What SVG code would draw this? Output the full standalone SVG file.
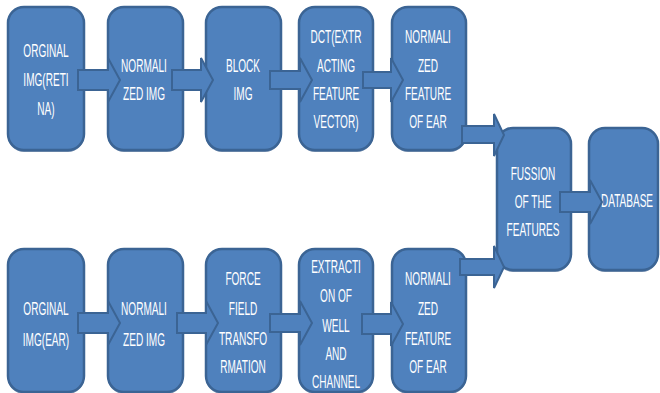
<svg xmlns="http://www.w3.org/2000/svg" width="660" height="393" viewBox="0 0 660 393">
<style>
.box{fill:#4F81BD;stroke:#3B6494;stroke-width:2.5}
.sh{fill:#385D8A;opacity:0.7}
.arr{fill:#4F81BD;stroke:#3B6494;stroke-width:2;stroke-linejoin:miter}
.t{fill:#FFFFFF;font-family:"Liberation Sans",Arial,sans-serif;font-size:19px;text-anchor:middle}
</style>
<rect width="660" height="393" fill="#FFFFFF"/>
<g id="n1"><rect class="sh" x="8" y="9" width="76" height="143" rx="16"/><rect class="box" x="8" y="7" width="76" height="143" rx="16"/>
<text class="t" transform="translate(46 0) scale(0.53 1)"><tspan x="0" y="57">ORGINAL</tspan><tspan x="0" y="86">IMG(RETI</tspan><tspan x="0" y="115">NA)</tspan></text></g>
<g id="n2"><rect class="sh" x="108" y="9" width="75" height="143" rx="16"/><rect class="box" x="108" y="7" width="75" height="143" rx="16"/>
<text class="t" transform="translate(144 0) scale(0.53 1)"><tspan x="0" y="72">NORMALI</tspan><tspan x="0" y="100">ZED IMG</tspan></text></g>
<g id="n3"><rect class="sh" x="206" y="9" width="75" height="143" rx="16"/><rect class="box" x="206" y="7" width="75" height="143" rx="16"/>
<text class="t" transform="translate(243 0) scale(0.53 1)"><tspan x="0" y="72">BLOCK</tspan><tspan x="0" y="100">IMG</tspan></text></g>
<g id="n4"><rect class="sh" x="299" y="9" width="74" height="143" rx="16"/><rect class="box" x="299" y="7" width="74" height="143" rx="16"/>
<text class="t" transform="translate(336 0) scale(0.53 1)"><tspan x="0" y="43">DCT(EXTR</tspan><tspan x="0" y="72">ACTING</tspan><tspan x="0" y="100">FEATURE</tspan><tspan x="0" y="128">VECTOR)</tspan></text></g>
<g id="n5"><rect class="sh" x="392" y="9" width="74" height="143" rx="16"/><rect class="box" x="392" y="7" width="74" height="143" rx="16"/>
<text class="t" transform="translate(428 0) scale(0.53 1)"><tspan x="0" y="43">NORMALI</tspan><tspan x="0" y="72">ZED</tspan><tspan x="0" y="100">FEATURE</tspan><tspan x="0" y="128">OF EAR</tspan></text></g>
<g id="n6"><rect class="sh" x="497" y="130" width="74" height="142" rx="16"/><rect class="box" x="497" y="128" width="74" height="142" rx="16"/>
<text class="t" transform="translate(533 0) scale(0.53 1)"><tspan x="0" y="180">FUSSION</tspan><tspan x="0" y="208">OF THE</tspan><tspan x="0" y="236">FEATURES</tspan></text></g>
<g id="n7"><rect class="sh" x="589" y="130" width="69" height="142" rx="16"/><rect class="box" x="589" y="128" width="69" height="142" rx="16"/>
<text class="t" transform="translate(627 0) scale(0.53 1)"><tspan x="0" y="207">DATABASE</tspan></text></g>
<g id="n8"><rect class="sh" x="8" y="251" width="76" height="143" rx="16"/><rect class="box" x="8" y="249" width="76" height="143" rx="16"/>
<text class="t" transform="translate(46 0) scale(0.53 1)"><tspan x="0" y="315">ORGINAL</tspan><tspan x="0" y="346">IMG(EAR)</tspan></text></g>
<g id="n9"><rect class="sh" x="108" y="251" width="75" height="143" rx="16"/><rect class="box" x="108" y="249" width="75" height="143" rx="16"/>
<text class="t" transform="translate(144 0) scale(0.53 1)"><tspan x="0" y="315">NORMALI</tspan><tspan x="0" y="346">ZED IMG</tspan></text></g>
<g id="n10"><rect class="sh" x="206" y="251" width="75" height="143" rx="16"/><rect class="box" x="206" y="249" width="75" height="143" rx="16"/>
<text class="t" transform="translate(243 0) scale(0.53 1)"><tspan x="0" y="285">FORCE</tspan><tspan x="0" y="315">FIELD</tspan><tspan x="0" y="345">TRANSFO</tspan><tspan x="0" y="373">RMATION</tspan></text></g>
<g id="n11"><rect class="sh" x="299" y="251" width="74" height="143" rx="16"/><rect class="box" x="299" y="249" width="74" height="143" rx="16"/>
<text class="t" transform="translate(336 0) scale(0.53 1)"><tspan x="0" y="273">EXTRACTI</tspan><tspan x="0" y="302">ON OF</tspan><tspan x="0" y="332">WELL</tspan><tspan x="0" y="360">AND</tspan><tspan x="0" y="388">CHANNEL</tspan></text></g>
<g id="n12"><rect class="sh" x="392" y="251" width="74" height="143" rx="16"/><rect class="box" x="392" y="249" width="74" height="143" rx="16"/>
<text class="t" transform="translate(428 0) scale(0.53 1)"><tspan x="0" y="285">NORMALI</tspan><tspan x="0" y="315">ZED</tspan><tspan x="0" y="345">FEATURE</tspan><tspan x="0" y="373">OF EAR</tspan></text></g>
<g id="connectors">
<polygon class="arr" points="78,70 108,70 108,58 120,80 108,102 108,90 78,90"/>
<polygon class="arr" points="172,70 201,70 201,58 213,80 201,102 201,90 172,90"/>
<polygon class="arr" points="270,71 300,71 300,58 312,80 300,102 300,89 270,89"/>
<polygon class="arr" points="363,72 391,72 391,58 403,80 391,102 391,88 363,88"/>
<polygon class="arr" points="462,126 494,126 494,114 504,135 494,156 494,143 462,143"/>
<polygon class="arr" points="460,259 494,259 494,246 504,267 494,288 494,275 460,275"/>
<polygon class="arr" points="560,192 590,192 590,180 602,202 590,224 590,212 560,212"/>
<polygon class="arr" points="78,313 108,313 108,301 120,323 108,345 108,333 78,333"/>
<polygon class="arr" points="177,313 206,313 206,301 218,323 206,345 206,333 177,333"/>
<polygon class="arr" points="270,314 300,314 300,301 312,323 300,345 300,332 270,332"/>
<polygon class="arr" points="362,314 391,314 391,302 403,324 391,346 391,334 362,334"/>
</g>
</svg>
